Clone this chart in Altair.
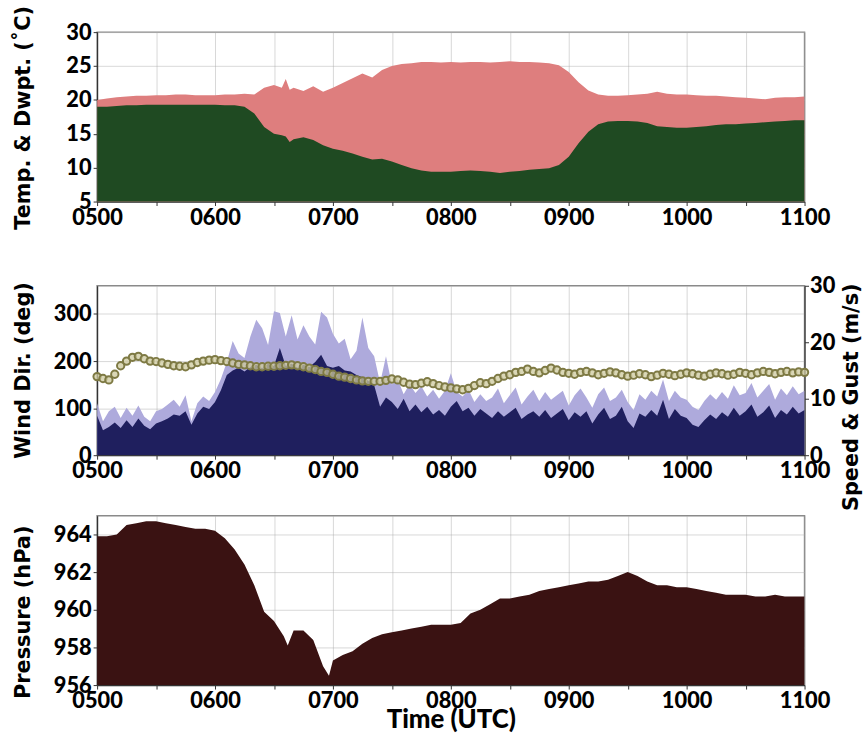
import altair as alt
import pandas as pd

# ---------------- data (minutes after 0500 UTC) ----------------
hour_labels = ["0500", "0600", "0700", "0800", "0900", "1000", "1100"]
tick_minutes = [0, 30, 60, 90, 120, 150, 180, 210, 240, 270, 300, 330, 360]

# Panel 1: temperature and dew point (deg C)
temp_time = [0, 5, 10, 15, 20, 25, 30, 35, 40, 45, 50, 55, 60, 65, 70, 75, 80, 85, 90, 94, 96, 98,
             100, 105, 110, 115, 120, 125, 130, 135, 140, 145, 150, 155, 160, 165, 170, 175, 180,
             185, 190, 195, 200, 205, 210, 215, 220, 225, 230, 235, 240, 245, 250, 255, 260, 265,
             270, 275, 280, 285, 290, 295, 300, 305, 310, 315, 320, 325, 330, 335, 340, 345, 350,
             355, 360]
temp_c = [20.0, 20.2, 20.4, 20.5, 20.6, 20.6, 20.7, 20.7, 20.8, 20.8, 20.7, 20.7, 20.7, 20.8, 20.8,
          20.9, 20.8, 21.8, 22.2, 21.8, 23.1, 21.5,
          21.8, 21.3, 22.0, 21.2, 21.8, 22.5, 23.2, 23.9, 23.3, 24.4, 25.0, 25.3, 25.4, 25.6, 25.6,
          25.5, 25.6, 25.5, 25.6, 25.6, 25.5, 25.6, 25.7, 25.6, 25.6, 25.5, 25.4, 25.1, 24.1, 22.6,
          21.4, 20.8, 20.6, 20.6, 20.7, 20.8, 20.9, 21.2, 20.9, 20.8, 20.8, 20.7, 20.6, 20.6, 20.5,
          20.4, 20.3, 20.2, 20.1, 20.3, 20.4, 20.4, 20.5]
dewp_c = [19.0, 19.0, 19.1, 19.2, 19.2, 19.3, 19.3, 19.3, 19.3, 19.3, 19.3, 19.3, 19.3, 19.2, 19.2,
          19.0, 18.0, 16.0, 15.0, 14.8, 14.6, 13.8,
          14.2, 14.5, 14.1, 13.3, 12.8, 12.5, 12.1, 11.6, 11.2, 11.3, 10.9, 10.4, 9.9, 9.6, 9.4,
          9.4, 9.4, 9.5, 9.6, 9.5, 9.4, 9.2, 9.4, 9.5, 9.7, 9.8, 9.9, 10.4, 11.6, 13.6,
          15.3, 16.4, 16.8, 16.9, 16.9, 16.8, 16.6, 16.1, 16.0, 15.9, 15.9, 16.0, 16.1, 16.3, 16.4,
          16.4, 16.5, 16.6, 16.7, 16.8, 16.9, 17.0, 17.0]

# Panel 2: wind (3-minute samples)
wind_time = list(range(0, 361, 3))
wind_speed = [7.0, 4.4, 5.0, 5.8, 4.8, 6.2, 5.0, 6.5, 5.2, 4.6, 5.6,
              6.0, 6.5, 7.2, 7.0, 7.8, 5.4, 7.4, 8.6, 8.2, 9.4,
              11.5, 14.2, 15.0, 15.5, 14.8, 15.6, 16.0, 15.4, 16.2, 15.8,
              19.0, 15.8, 16.2, 15.5, 16.0, 15.6, 16.5, 17.8, 15.8, 15.5,
              15.8, 15.0, 14.8, 14.2, 13.8, 13.2, 12.4, 8.6, 10.2, 9.4,
              8.2, 10.0, 7.8, 9.0, 7.6, 8.6, 7.2, 8.0, 7.0, 8.6,
              9.6, 7.8, 8.4, 7.0, 8.2, 7.4, 6.6, 7.8, 6.8, 7.6,
              8.4, 6.4, 7.2, 7.8, 6.8, 8.0, 6.6, 7.4, 8.2, 6.2,
              7.6, 6.8, 7.8, 5.6, 7.2, 8.4, 6.4, 7.0, 8.6, 6.0,
              4.8, 7.4, 6.8, 8.0, 7.0, 9.8, 6.4, 8.2, 7.0, 6.6,
              5.4, 5.0, 6.2, 7.2, 6.4, 7.6, 6.8, 8.4, 7.0, 7.8,
              9.0, 6.8, 7.6, 8.8, 6.6, 8.0, 7.2, 8.6, 7.4, 8.0]
wind_gust = [9.2, 6.0, 7.8, 8.6, 6.6, 8.4, 7.0, 8.8, 6.8, 6.0, 7.8,
             8.2, 9.0, 9.8, 8.6, 10.6, 6.0, 9.2, 10.4, 9.6, 11.2,
             13.5, 16.5, 20.2, 18.0, 17.2, 21.0, 24.0, 22.5, 19.5, 25.5,
             25.2, 21.0, 24.8, 20.5, 23.0, 21.0, 19.6, 25.4, 24.4, 21.5,
             19.8, 20.6, 17.0, 18.5, 24.4, 19.0, 17.5, 12.8, 17.5, 12.5,
             13.4, 10.8, 12.6, 11.0, 12.2, 10.4, 11.6, 10.0, 11.4, 14.5,
             11.2, 10.4, 11.6, 9.4, 10.8, 9.6, 10.2, 11.8, 9.2, 10.6,
             12.0, 9.0, 10.4, 11.6, 9.6, 11.2, 9.8, 10.6, 11.4, 8.8,
             10.6, 11.8, 10.2, 8.4, 10.8, 12.0, 9.6, 10.2, 11.6, 9.4,
             8.0, 10.8, 9.8, 11.4, 10.4, 13.4, 9.6, 11.4, 10.2, 9.8,
             8.6, 8.0, 9.6, 10.8, 9.8, 11.2, 10.0, 12.4, 10.6, 11.0,
             12.8, 10.2, 11.4, 12.6, 9.8, 11.8, 10.6, 12.2, 10.8, 11.4]
wind_dir = [167, 163, 160, 172, 190, 200, 208, 210, 205, 200, 199,
            196, 193, 190, 189, 188, 192, 197, 200, 202, 203,
            201, 199, 196, 193, 192, 190, 188, 188, 189, 189,
            190, 191, 192, 190, 188, 185, 182, 178, 176, 172,
            168, 166, 163, 160, 158, 157, 157, 157, 159, 162,
            160, 155, 151, 150, 153, 156, 152, 148, 145, 143,
            141, 139, 142, 148, 154, 152, 157, 163, 168, 171,
            176, 178, 183, 178, 175, 180, 185, 181, 176, 174,
            172, 176, 178, 175, 171, 174, 177, 175, 171, 168,
            170, 173, 171, 167, 170, 174, 172, 169, 172, 175,
            173, 170, 168, 172, 175, 173, 170, 172, 176, 174,
            171, 175, 178, 176, 173, 176, 178, 175, 177, 176]

# Panel 3: pressure (hPa)
pres_time = [0, 5, 10, 15, 20, 25, 30, 35, 40, 45, 50, 55, 60, 65, 70, 75, 80, 85, 90, 95, 97,
             100, 105, 110, 115, 118, 120, 125, 130, 135, 140, 145, 150, 155, 160, 165, 170, 175,
             180, 185, 190, 195, 200, 205, 210, 215, 220, 225, 230, 235, 240, 245, 250, 255, 260,
             265, 270, 275, 280, 285, 290, 295, 300, 305, 310, 315, 320, 325, 330, 335, 340, 345,
             350, 355, 360]
pres_hpa = [963.9, 963.9, 964.0, 964.5, 964.6, 964.7, 964.7, 964.6, 964.5, 964.4, 964.3, 964.3,
            964.2, 963.8, 963.2, 962.4, 961.3, 959.9, 959.4, 958.6, 958.1,
            958.9, 958.9, 958.4, 957.0, 956.5, 957.3, 957.6, 957.8, 958.2, 958.5, 958.7, 958.8,
            958.9, 959.0, 959.1, 959.2, 959.2, 959.2, 959.3, 959.8, 960.0, 960.3, 960.6, 960.6,
            960.7, 960.8, 961.0, 961.1, 961.2, 961.3, 961.4, 961.5, 961.5, 961.6, 961.8, 962.0,
            961.8, 961.5, 961.3, 961.3, 961.2, 961.2, 961.1, 961.0, 960.9, 960.8, 960.8, 960.8,
            960.7, 960.7, 960.8, 960.7, 960.7, 960.7]

# ---------------- styling ----------------
W, H = 714, 171
PINK = "#DE7E7E"
GREEN = "#1F4A22"
LAVENDER = "#AEAADC"
NAVY = "#1F1F5E"
OLIVE = "#7E7A44"
OLIVE_FILL = "#CDC99F"
MAROON = "#3A1212"
LABEL_FONT = "Lato"
TITLE_FONT = "DejaVu Sans"

label_expr = " : ".join(
    f"datum.value == {60 * i} ? '{lab}'" for i, lab in enumerate(hour_labels)
) + " : ''"


def x_enc(title=None):
    axis_kw = dict(values=tick_minutes, labelExpr=label_expr, grid=True,
                   labelOverlap=False, labelFlush=False, labelPadding=2)
    if title:
        axis_kw.update(title=title, titleFont=LABEL_FONT, titleFontSize=26,
                       titleFontWeight=900, titlePadding=-5)
    else:
        axis_kw.update(title=None)
    return alt.X("t:Q", scale=alt.Scale(domain=[0, 360], nice=False, zero=False),
                 axis=alt.Axis(**axis_kw))


def left_axis(title, values, ty):
    return alt.Axis(title=title, values=values, grid=True, titleAngle=270,
                    titleX=-74, titleY=ty, titleAlign="center", titleBaseline="middle",
                    labelPadding=2, labelOverlap=False)


# Panel 1
df1 = pd.DataFrame({"t": temp_time, "temp": temp_c, "dew": dewp_c})
y1_scale = alt.Scale(domain=[5, 30], nice=False, zero=False)
y1_axis = left_axis("Temp. & Dwpt. (˚C)", [5, 10, 15, 20, 25, 30], 86)
temp_area = alt.Chart(df1).mark_area(color=PINK, clip=True).encode(
    x=x_enc(), y=alt.Y("temp:Q", scale=y1_scale, axis=y1_axis),
)
dew_area = alt.Chart(df1).mark_area(color=GREEN, clip=True).encode(
    x=x_enc(), y=alt.Y("dew:Q", scale=y1_scale, axis=y1_axis),
)
p1 = alt.layer(temp_area, dew_area).properties(width=W, height=H)

# Panel 2
df2 = pd.DataFrame({"t": wind_time, "speed": wind_speed, "gust": wind_gust, "dir": wind_dir})
wind_areas = alt.Chart(df2).transform_fold(["gust", "speed"], as_=["kind", "v"]).mark_area(
    clip=True
).encode(
    x=x_enc(),
    y=alt.Y("v:Q", stack=None, scale=alt.Scale(domain=[0, 30], nice=False),
            axis=alt.Axis(orient="right", title="Speed & Gust (m/s)", values=[0, 10, 20, 30],
                          grid=False, titleAngle=270, titleX=47, titleY=112,
                          titleAlign="center", titleBaseline="middle", labelPadding=1,
                          labelOverlap=False)),
    color=alt.Color("kind:N", scale=alt.Scale(domain=["gust", "speed"], range=[LAVENDER, NAVY]),
                    legend=None),
)
dir_points = alt.Chart(df2).mark_point(
    shape="circle", filled=True, fill=OLIVE_FILL, stroke=OLIVE, strokeWidth=2,
    size=55, opacity=1, fillOpacity=0.75
).encode(
    x=x_enc(),
    y=alt.Y("dir:Q", scale=alt.Scale(domain=[0, 360], nice=False),
            axis=left_axis("Wind Dir. (deg)", [0, 100, 200, 300], 85)),
)
p2 = alt.layer(wind_areas, dir_points).resolve_scale(y="independent").properties(width=W, height=H)

# Panel 3
df3 = pd.DataFrame({"t": pres_time, "p": pres_hpa})
p3 = alt.Chart(df3).mark_area(color=MAROON, clip=True).encode(
    x=x_enc("Time (UTC)"),
    y=alt.Y("p:Q", scale=alt.Scale(domain=[956, 965], nice=False, zero=False),
            axis=left_axis("Pressure (hPa)", [956, 958, 960, 962, 964], 97)),
).properties(width=W, height=H)


def spacer(h):
    return alt.Chart(pd.DataFrame({"a": [0]})).mark_point(opacity=0).encode(
        x=alt.value(0), y=alt.value(0)
    ).properties(width=W, height=h, view=alt.ViewBackground(strokeOpacity=0))


chart = alt.vconcat(p1, spacer(85), p2, spacer(61), p3, spacing=0, bounds="flush").properties(
    padding={"left": 12, "top": 1, "right": 2, "bottom": 2}, background="white"
).configure_view(
    stroke="#8a8a8a", strokeWidth=1.5
).configure_axis(
    labelFont=LABEL_FONT, labelFontSize=22, labelFontWeight=900, labelColor="black",
    titleFont=TITLE_FONT, titleFontSize=21, titleFontWeight="bold", titleColor="black",
    domainColor="#333333", tickColor="#333333", tickSize=4, domainWidth=1.2,
    gridColor="#a8a8a8", gridOpacity=0.45, gridWidth=1, zindex=1,
)

chart.save("out.html", embed_options={"renderer": "svg", "actions": False})
